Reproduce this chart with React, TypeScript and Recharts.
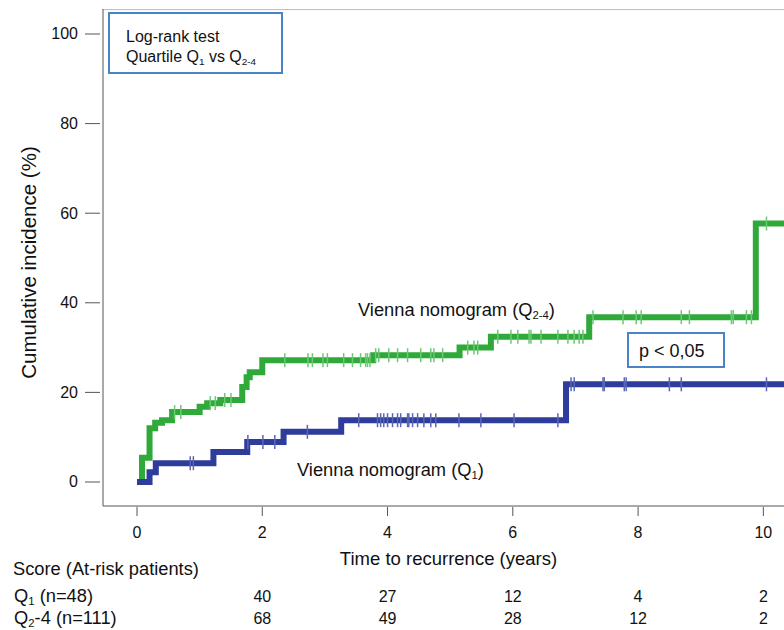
import {
  ComposedChart,
  Line,
  ReferenceLine,
  Scatter,
  XAxis,
  YAxis,
} from 'recharts'

const FONT = '"Liberation Sans", Arial, Helvetica, sans-serif'
const TEXT = '#111'
const AXIS = '#555'

const COLORS = {
  q24: '#30a93b',
  q24Censor: '#6cc874',
  q1: '#2e3d9b',
  q1Censor: '#5a67b8',
  box: '#4a84c8',
}

// Kaplan-Meier type step curves (time in years, cumulative incidence in %)
const q24Times = [0, 0.08, 0.2, 0.29, 0.4, 0.56, 1.0, 1.12, 1.33, 1.68, 1.75, 1.8, 2.0, 3.77, 5.15, 5.65, 7.22, 9.88, 10.33]
const q24Incidence = [0, 5.4, 12, 13.2, 13.8, 15.6, 16.8, 17.6, 18.3, 21.2, 23.4, 24.5, 27.2, 28.3, 30.0, 32.4, 36.8, 57.7, 57.7]

const q1Times = [0, 0.2, 0.3, 1.22, 1.76, 2.34, 3.26, 6.85, 10.33]
const q1Incidence = [0, 2.2, 4.2, 6.7, 8.9, 11.2, 13.8, 21.8, 21.8]

// censored observations (tick marks on the curves)
const q24CensorTimes = [
  0.6, 0.7, 1.17, 1.25, 1.4, 1.5,
  2.36, 2.73, 2.8, 2.97, 3.04, 3.3, 3.44, 3.57, 3.65, 3.68, 3.72,
  3.81, 3.86, 4.02, 4.16, 4.32, 4.53, 4.69, 4.74, 4.88,
  5.28, 5.38, 5.44,
  5.76, 5.97, 6.08, 6.26, 6.29, 6.45, 6.72, 6.88, 6.98, 7.06, 7.12,
  7.28, 7.76, 7.97, 8.05, 8.69, 8.82, 9.49, 9.52, 9.73, 9.81,
  10.05,
]
const q24CensorLevels = [
  15.6, 15.6, 17.6, 17.6, 18.3, 18.3,
  27.2, 27.2, 27.2, 27.2, 27.2, 27.2, 27.2, 27.2, 27.2, 27.2, 27.2,
  28.3, 28.3, 28.3, 28.3, 28.3, 28.3, 28.3, 28.3, 28.3,
  30.0, 30.0, 30.0,
  32.4, 32.4, 32.4, 32.4, 32.4, 32.4, 32.4, 32.4, 32.4, 32.4, 32.4,
  36.8, 36.8, 36.8, 36.8, 36.8, 36.8, 36.8, 36.8, 36.8, 36.8,
  57.7,
]

const q1CensorTimes = [
  0.85, 0.9,
  1.77, 2.01, 2.2,
  2.72,
  3.54, 3.84, 3.89, 3.94, 4.0, 4.08, 4.16, 4.21, 4.32, 4.34, 4.4, 4.48, 4.58, 4.69, 4.77, 5.14, 5.49, 6.02, 6.72,
  6.93, 6.98, 7.44, 7.46, 7.78, 7.81, 8.5, 8.69, 10.05,
]
const q1CensorLevels = [
  4.2, 4.2,
  8.9, 8.9, 8.9,
  11.2,
  13.8, 13.8, 13.8, 13.8, 13.8, 13.8, 13.8, 13.8, 13.8, 13.8, 13.8, 13.8, 13.8, 13.8, 13.8, 13.8, 13.8, 13.8, 13.8,
  21.8, 21.8, 21.8, 21.8, 21.8, 21.8, 21.8, 21.8, 21.8,
]

// axes
const xTicks = [0, 2, 4, 6, 8, 10]
const yTicks = [0, 20, 40, 60, 80, 100]

// at-risk table
const riskTimes = [2, 4, 6, 8, 10]
const riskQ1 = [40, 27, 12, 4, 2]
const riskQ24 = [68, 49, 28, 12, 2]

const zip = (xs: number[], ys: number[]) => xs.map((x, i) => ({ x, y: ys[i] }))

const q24Data = zip(q24Times, q24Incidence)
const q1Data = zip(q1Times, q1Incidence)
const q24Censored = zip(q24CensorTimes, q24CensorLevels)
const q1Censored = zip(q1CensorTimes, q1CensorLevels)

function YTick({ x, y, payload }: { x?: number; y?: number; payload?: { value: number } }) {
  const px = x ?? 0
  const py = y ?? 0
  return (
    <g>
      <line x1={px - 18} x2={px - 3} y1={py} y2={py} stroke={AXIS} strokeWidth={1} />
      <text x={px - 25} y={py} dy={5.5} textAnchor="end" fontSize={16} fill={TEXT} fontFamily={FONT}>
        {payload?.value}
      </text>
    </g>
  )
}

function XTick({ x, y, payload }: { x?: number; y?: number; payload?: { value: number } }) {
  const px = x ?? 0
  const py = y ?? 0
  const i = riskTimes.indexOf(payload?.value ?? -1)
  return (
    <g fontFamily={FONT} fontSize={16} fill={TEXT}>
      <line x1={px} x2={px} y1={py + 1} y2={py + 10} stroke={AXIS} strokeWidth={1} />
      <text x={px} y={py + 32} textAnchor="middle">{payload?.value}</text>
      {i >= 0 && (
        <>
          <text x={px} y={py + 96} textAnchor="middle">{riskQ1[i]}</text>
          <text x={px} y={py + 118} textAnchor="middle">{riskQ24[i]}</text>
        </>
      )}
    </g>
  )
}

function YTitle({ viewBox }: { viewBox?: { x: number; y: number; width: number; height: number } }) {
  const vb = viewBox ?? { x: 0, y: 0, width: 0, height: 0 }
  const cx = vb.x + 28
  const cy = vb.y + vb.height / 2 + 5
  return (
    <text
      x={cx}
      y={cy}
      transform={`rotate(-90 ${cx} ${cy})`}
      textAnchor="middle"
      dominantBaseline="central"
      fontSize={20.5}
      fill={TEXT}
      fontFamily={FONT}
    >
      Cumulative incidence (%)
    </text>
  )
}

function CensorMark(props: { cx?: number; cy?: number; stroke: string }) {
  const { cx = 0, cy = 0, stroke } = props
  return <line x1={cx} x2={cx} y1={cy - 7} y2={cy + 7} stroke={stroke} strokeWidth={1.5} />
}

const overlay: React.CSSProperties = {
  position: 'absolute',
  fontFamily: FONT,
  color: TEXT,
  whiteSpace: 'nowrap',
}

const sub: React.CSSProperties = { fontSize: '0.62em', verticalAlign: '-0.3em', lineHeight: 0 }

export default function App() {
  return (
    <div style={{ position: 'absolute', left: 0, top: 0, width: 784, height: 630, background: '#fff' }}>
      <ComposedChart
        width={784}
        height={630}
        margin={{ top: 9, right: 0, bottom: 0, left: 0 }}
        style={{ fontFamily: FONT }}
      >
        <XAxis
          type="number"
          dataKey="x"
          domain={[-0.543, 10.33]}
          allowDataOverflow
          ticks={xTicks}
          tickSize={0}
          tickMargin={0}
          height={124}
          stroke={AXIS}
          tick={<XTick />}
          label={{
            value: 'Time to recurrence (years)',
            position: 'insideTop',
            offset: 46,
            dx: 5,
            fontSize: 18.5,
            fill: TEXT,
          }}
        />
        <YAxis
          type="number"
          dataKey="y"
          domain={[-5.36, 105.58]}
          allowDataOverflow
          ticks={yTicks}
          tickSize={0}
          tickMargin={0}
          tickLine={false}
          width={103}
          stroke={AXIS}
          tick={<YTick />}
          label={<YTitle />}
        />
        <ReferenceLine y={105.45} stroke="#bbb" strokeWidth={1} />

        {/* Q2-4: green step curve */}
        <Line
          data={q24Data}
          dataKey="y"
          type="stepAfter"
          stroke={COLORS.q24}
          strokeWidth={6}
          dot={false}
          activeDot={false}
          isAnimationActive={false}
        />
        {/* Q1: blue step curve */}
        <Line
          data={q1Data}
          dataKey="y"
          type="stepAfter"
          stroke={COLORS.q1}
          strokeWidth={6}
          dot={false}
          activeDot={false}
          isAnimationActive={false}
        />
        <Scatter
          data={q24Censored}
          dataKey="y"
          shape={(p: any) => <CensorMark {...p} stroke={COLORS.q24Censor} />}
          isAnimationActive={false}
        />
        <Scatter
          data={q1Censored}
          dataKey="y"
          shape={(p: any) => <CensorMark {...p} stroke={COLORS.q1Censor} />}
          isAnimationActive={false}
        />
      </ComposedChart>

      {/* Log-rank box */}
      <div
        style={{
          ...overlay,
          left: 108,
          top: 12,
          width: 171,
          height: 58,
          border: `2px solid ${COLORS.box}`,
          fontSize: 16,
          lineHeight: '20px',
        }}
      >
        <div style={{ position: 'absolute', left: 16, top: 13 }}>Log-rank test</div>
        <div style={{ position: 'absolute', left: 16, top: 33 }}>
          Quartile Q<span style={sub}>1</span> vs Q<span style={sub}>2-4</span>
        </div>
      </div>

      {/* p value box */}
      <div
        style={{
          ...overlay,
          left: 627,
          top: 332,
          width: 94,
          height: 32,
          border: `2px solid ${COLORS.box}`,
          fontSize: 18,
          lineHeight: '32px',
        }}
      >
        <span style={{ position: 'absolute', left: 10, top: 1 }}>p &lt; 0,05</span>
      </div>

      {/* curve labels */}
      <div style={{ ...overlay, left: 358, top: 298, fontSize: 18.3, lineHeight: '24px' }}>
        Vienna nomogram (Q<span style={sub}>2-4</span>)
      </div>
      <div style={{ ...overlay, left: 297, top: 458, fontSize: 18.3, lineHeight: '24px' }}>
        Vienna nomogram (Q<span style={sub}>1</span>)
      </div>

      {/* at-risk table row labels */}
      <div style={{ ...overlay, left: 13, top: 557, fontSize: 18.3, lineHeight: '24px' }}>
        Score (At-risk patients)
      </div>
      <div style={{ ...overlay, left: 14, top: 584, fontSize: 18.3, lineHeight: '24px' }}>
        Q<span style={sub}>1</span> (n=48)
      </div>
      <div style={{ ...overlay, left: 14, top: 606, fontSize: 18.3, lineHeight: '24px' }}>
        Q<span style={sub}>2</span>-4 (n=111)
      </div>
    </div>
  )
}
